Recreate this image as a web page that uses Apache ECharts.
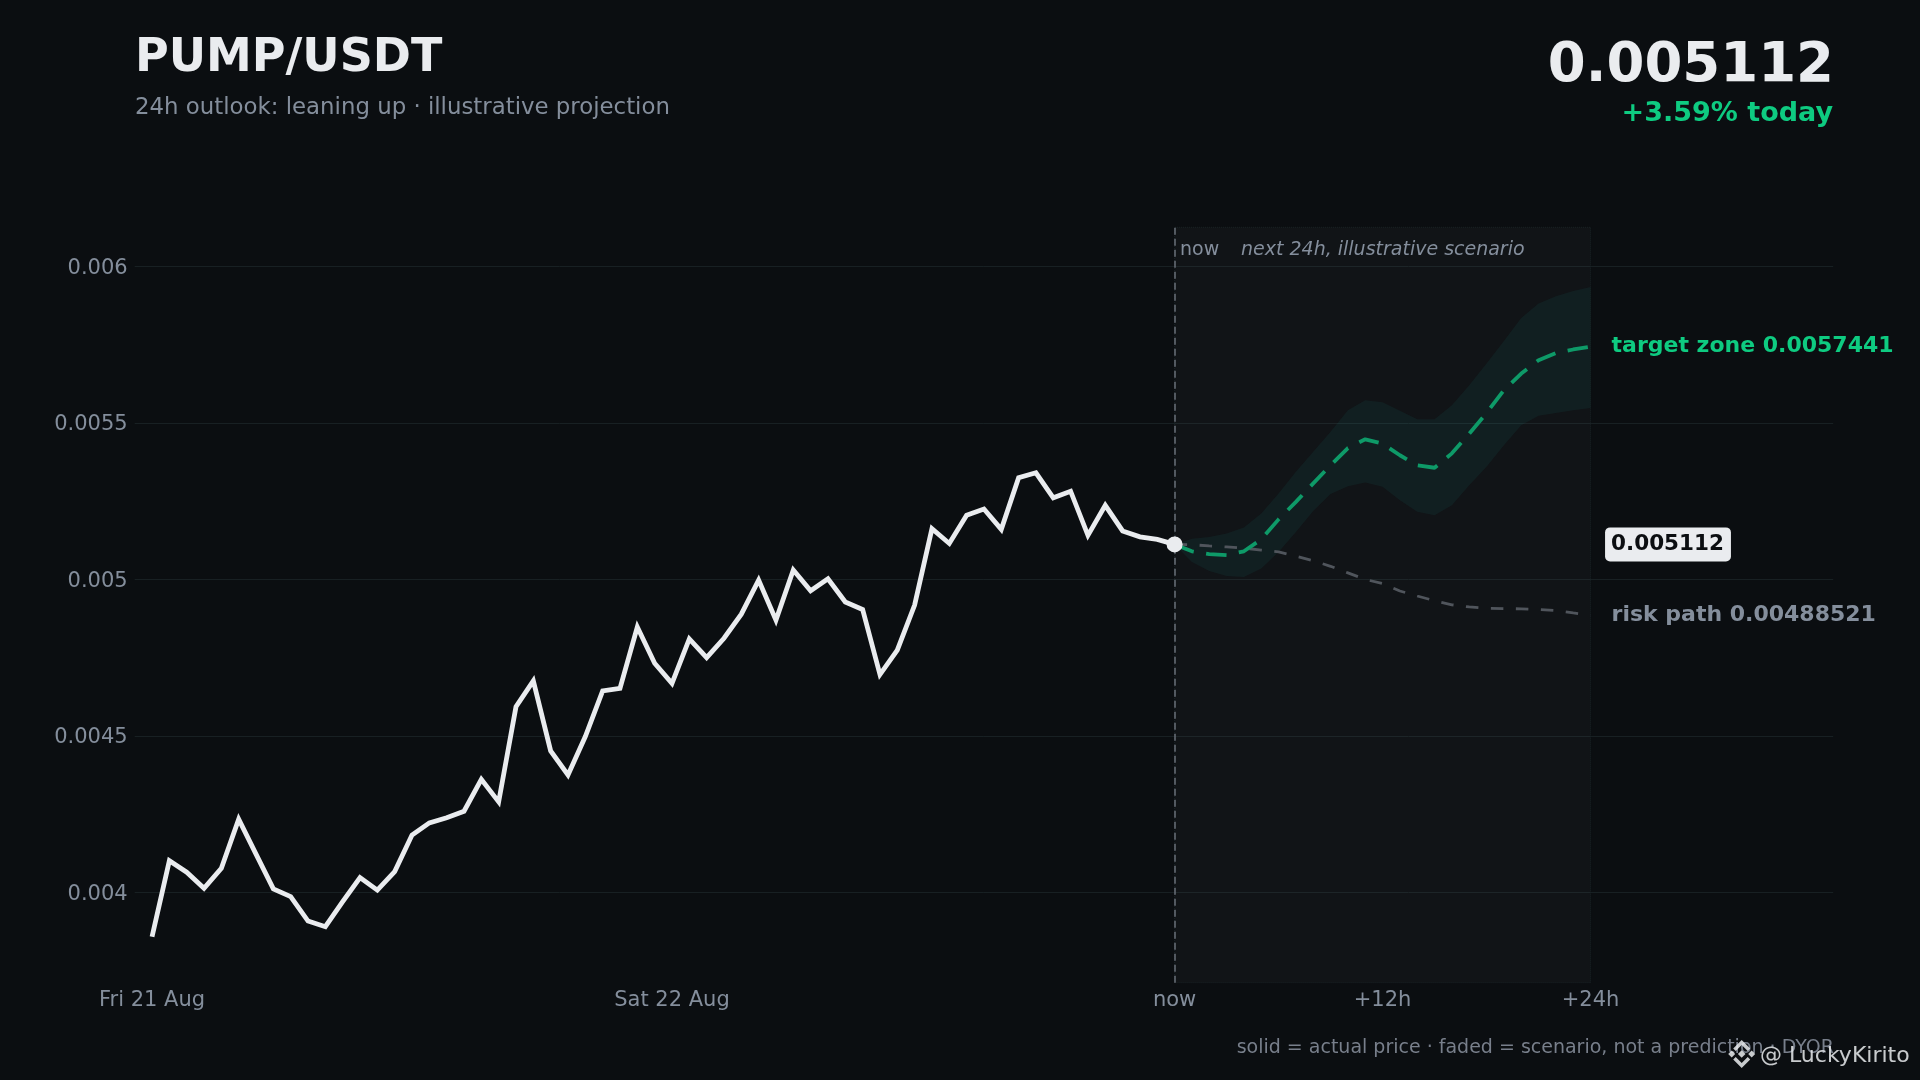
<!DOCTYPE html>
<html><head><meta charset="utf-8">
<style>html,body{margin:0;padding:0;background:#0b0e11}#c{width:1920px;height:1080px}</style>
<script src="https://cdn.jsdelivr.net/npm/echarts@6/dist/echarts.min.js"></script>
</head><body><div id="c"></div>
<script>
const history = [0.003858,0.004101,0.004064,0.004013,0.004077,0.004234,0.004122,0.004011,0.003986,0.003908,
0.00389,0.00397,0.004047,0.004007,0.004066,0.004183,0.004222,0.004238,0.004259,0.004361,
0.004289,0.004593,0.004676,0.004452,0.004375,0.004498,0.004644,0.004652,0.004848,0.004732,
0.004668,0.00481,0.00475,0.004812,0.004889,0.004998,0.00487,0.00503,0.004964,0.005002,
0.004928,0.004904,0.004696,0.004774,0.004918,0.005162,0.005115,0.005205,0.005225,0.00516,
0.005325,0.005341,0.005261,0.005282,0.005141,0.005237,0.005155,0.005136,0.005128,0.005112];
const target = [0.005112,0.00509,0.005081,0.005078,0.00509,0.005128,0.005192,0.005248,0.005307,0.005365,
0.00542,0.005448,0.005434,0.005397,0.005365,0.005357,0.005403,0.005466,0.005532,0.005605,
0.005658,0.005701,0.005724,0.005735,0.0057441];
const upper = [0.005112,0.00513,0.005136,0.005147,0.005166,0.005211,0.005275,0.005344,0.005408,0.005472,
0.005541,0.005573,0.005566,0.005539,0.005512,0.005512,0.005557,0.005621,0.00569,0.005762,
0.005836,0.005882,0.005905,0.005922,0.005935];
const lower = [0.005112,0.005056,0.005027,0.005011,0.005008,0.005035,0.005088,0.005152,0.005219,0.005273,
0.005298,0.00531,0.005296,0.005253,0.005216,0.005205,0.005237,0.005301,0.00536,0.005429,
0.005493,0.005523,0.005532,0.005541,0.005548];
const risk = [0.005112,0.005111,0.005107,0.005104,0.0051,0.005094,0.005088,0.005074,0.00506,0.005042,
0.005021,0.005,0.004987,0.004963,0.004947,0.004932,0.004919,0.004912,0.004908,0.004907,
0.004906,0.004904,0.004901,0.004893,0.00488521];
const yTicks = [0.004,0.0045,0.005,0.0055,0.006];
const xTicks = [0,30,59,71,83];
const xTickLabels = ['Fri 21 Aug','Sat 22 Aug','now','+12h','+24h'];
const nowIndex = 59, endIndex = 83;
const lastPrice = '0.005112', changeText = '+3.59% today';

const F = '"DejaVu Sans"';
const GREEN = '#0ecb81', WHITE = '#eaecef', GREY = '#848e9c';
const yMin = 0.003711, yMax = 0.0061256;
const hist = history.map((v,i)=>[i,v]);
const fc = a => a.map((v,i)=>[nowIndex+i,v]);
const WM = 'rgba(234,236,239,0.85)';
const logo = [
  [[0,-3.8],[3.8,0],[0,3.8],[-3.8,0]],
  [[-13.5,0],[-10,-3.5],[-6.5,0],[-10,3.5]],
  [[13.5,0],[10,-3.5],[6.5,0],[10,3.5]],
  [[0,-14],[8.5,-5.5],[6,-3],[0,-9],[-6,-3],[-8.5,-5.5]],
  [[0,14],[8.5,5.5],[6,3],[0,9],[-6,3],[-8.5,5.5]]
];

const chart = echarts.init(document.getElementById('c'), null, {renderer:'canvas', width:1920, height:1080});
chart.setOption({
  backgroundColor:'#0b0e11',
  animation:false,
  textStyle:{fontFamily:F},
  title:[
    {text:'PUMP/USDT', left:130, top:31, textStyle:{color:WHITE,fontSize:46,fontWeight:'bold',fontFamily:F}},
    {text:'24h outlook: leaning up · illustrative projection', left:130, top:92, textStyle:{color:GREY,fontSize:22.85,fontWeight:'normal',fontFamily:F}},
    {text:lastPrice, right:81, top:34, textStyle:{color:WHITE,fontSize:54.5,fontWeight:'bold',fontFamily:F}},
    {text:changeText, right:82, top:95.5, textStyle:{color:GREEN,fontSize:27,fontWeight:'bold',fontFamily:F}},
    {text:'solid = actual price · faded = scenario, not a prediction · DYOR', right:81, top:1034, textStyle:{color:'#787f8b',fontSize:19,fontWeight:'normal',fontFamily:F}}
  ],
  grid:{left:134.7, top:227.3, width:1698.5, height:755.4, containLabel:false},
  xAxis:{type:'value', min:-1, max:97,
    axisLine:{show:false}, splitLine:{show:false},
    axisTick:{show:false, customValues:xTicks},
    axisLabel:{customValues:xTicks, color:GREY, fontSize:21, margin:7, fontFamily:F,
      showMinLabel:true, showMaxLabel:true,
      formatter:v=>xTickLabels[xTicks.indexOf(v)]||''}},
  yAxis:{type:'value', min:yMin, max:yMax,
    axisLine:{show:false},
    axisTick:{show:false, customValues:yTicks},
    splitLine:{show:true, lineStyle:{color:'#182023', width:1}},
    axisLabel:{customValues:yTicks, color:GREY, fontSize:21, margin:7, verticalAlign:'top', lineHeight:4, fontFamily:F, formatter:v=>String(v)}},
  series:[
    {name:'zone', type:'line', data:[], silent:true, z:1,
      markArea:{silent:true, itemStyle:{color:'rgba(140,140,140,0.05)', borderColor:'#1a2326', borderWidth:1, borderType:'dotted'},
        data:[[{xAxis:nowIndex,yAxis:yMin},{xAxis:endIndex,yAxis:yMax}]]}},
    {name:'band', type:'custom', silent:true, z:2, clip:true,
      data:upper.map((u,i)=>[nowIndex+i,u,lower[i]]),
      renderItem:(params,api)=>{
        if(params.dataIndex!==0) return null;
        const pts=[];
        upper.forEach((u,i)=>pts.push(api.coord([nowIndex+i,u])));
        for(let i=lower.length-1;i>=0;i--) pts.push(api.coord([nowIndex+i,lower[i]]));
        return {type:'polygon', shape:{points:pts}, style:{fill:'rgba(30,190,170,0.07)'}};
      }},
    {name:'risk', type:'line', data:fc(risk), z:3, symbol:'none', silent:true,
      lineStyle:{color:'#50555c', width:2.8, type:[12.5,12.5], cap:'butt'},
      endLabel:{show:true, distance:21, formatter:'risk path 0.00488521', color:GREY, fontSize:22, fontWeight:'bold', fontFamily:F}},
    {name:'target', type:'line', data:fc(target), z:4, symbol:'none', silent:true,
      lineStyle:{color:'#0e9a68', width:3.8, type:[20.5,12.5], cap:'butt'},
      endLabel:{show:true, distance:21, formatter:'target zone 0.0057441', color:GREEN, fontSize:22, fontWeight:'bold', fontFamily:F}},
    {name:'actual', type:'line', data:hist, z:6, symbol:'none', silent:true,
      lineStyle:{color:WHITE, width:4.8, join:'miter'},
      markLine:{silent:true, symbol:'none', label:{show:false}, z:5,
        lineStyle:{color:'#6a7079', width:1.5, type:[7,4]},
        data:[{xAxis:nowIndex}]}},
    {name:'nowPoint', type:'scatter', data:[[nowIndex,history[history.length-1]]], z:7, symbolSize:16, silent:true,
      itemStyle:{color:WHITE, opacity:1}},
    {name:'priceTag', type:'scatter', data:[[endIndex,history[history.length-1]]], z:7, symbolSize:1, silent:true,
      itemStyle:{color:'rgba(0,0,0,0)', opacity:1},
      label:{show:true, position:'right', distance:14, formatter:lastPrice, color:'#0b0e11', fontSize:21.5, fontWeight:'bold', fontFamily:F,
        backgroundColor:WHITE, borderRadius:5, padding:[6,7,6,6]}}
  ],
  graphic:[
    {type:'text', left:1180, top:241, z:10, style:{text:'now', fill:GREY, font:'19px '+F}},
    {type:'text', left:1241, top:241, z:10, style:{text:'next 24h, illustrative scenario', fill:GREY, font:'italic 19px '+F}},
    {type:'text', left:1760, top:1045, z:20, style:{text:'@ LuckyKirito', fill:WM, font:'22px '+F}},
    {type:'group', x:1741.7, y:1054, z:20, children:logo.map(p=>({type:'polygon', z:20, shape:{points:p}, style:{fill:WM}}))}
  ]
});
</script></body></html>
